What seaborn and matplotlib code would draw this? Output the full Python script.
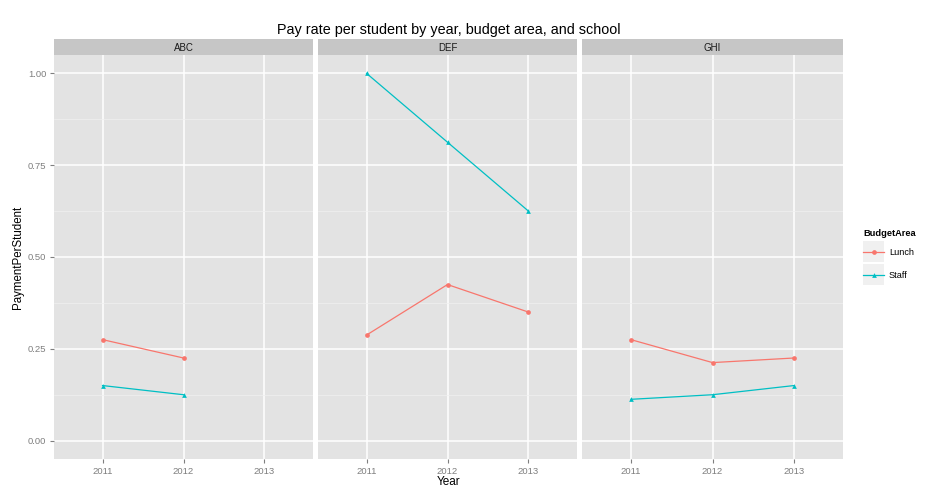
import numpy as np
import pandas as pd
import matplotlib
matplotlib.use("Agg")
import matplotlib.pyplot as plt
import seaborn as sns
from matplotlib.legend_handler import HandlerLine2D
from matplotlib.patches import Rectangle
from matplotlib.lines import Line2D

# ---- data ----
schools = ["ABC", "DEF", "GHI"]
years = [2011, 2012, 2013]
budget_areas = ["Lunch", "Staff"]

abc_years = [2011, 2012]
abc_lunch = [0.275, 0.225]
abc_staff = [0.15, 0.125]

def_years = [2011, 2012, 2013]
def_lunch = [0.2875, 0.425, 0.35]
def_staff = [1.0, 0.8125, 0.625]

ghi_years = [2011, 2012, 2013]
ghi_lunch = [0.275, 0.2125, 0.225]
ghi_staff = [0.1125, 0.125, 0.15]

y_ticks = [0.0, 0.25, 0.5, 0.75, 1.0]
y_tick_labels = ["0.00", "0.25", "0.50", "0.75", "1.00"]
x_tick_labels = ["2011", "2012", "2013"]

rows = []
for sch, yrs, lunch, staff in [("ABC", abc_years, abc_lunch, abc_staff),
                               ("DEF", def_years, def_lunch, def_staff),
                               ("GHI", ghi_years, ghi_lunch, ghi_staff)]:
    for y, l, s in zip(yrs, lunch, staff):
        rows.append({"School": sch, "Year": y, "BudgetArea": "Lunch", "PaymentPerStudent": l})
        rows.append({"School": sch, "Year": y, "BudgetArea": "Staff", "PaymentPerStudent": s})
df = pd.DataFrame(rows)

palette = {"Lunch": "#F8766D", "Staff": "#00BFC4"}
markers = {"Lunch": "o", "Staff": "^"}

plt.rcParams["font.family"] = ["Liberation Sans", "DejaVu Sans"]

W, H = 950, 501
fig = plt.figure(figsize=(W / 100, H / 100), dpi=100)
fig.patch.set_facecolor("white")

panel_px = [(54, 313), (318, 577), (582, 843)]
top_px, bot_px = 55, 459
strip_top = 39

LW = 0.9
MS = 3.4
tick_col = "#7F7F7F"
axes = []
for i, (sch, (l, r)) in enumerate(zip(schools, panel_px)):
    ax = fig.add_axes([l / W, (H - bot_px) / H, (r - l) / W, (bot_px - top_px) / H])
    ax.set_facecolor("#E3E3E3")
    sub = df[df["School"] == sch]
    sns.lineplot(data=sub, x="Year", y="PaymentPerStudent", hue="BudgetArea",
                 style="BudgetArea", hue_order=budget_areas, style_order=budget_areas,
                 palette=palette, markers=markers, dashes=False, ax=ax, legend=False,
                 linewidth=LW, markersize=MS, markeredgewidth=0, zorder=3)
    ax.set_xlim(2010.4, 2013.6)
    ax.set_ylim(-0.05, 1.05)
    ax.set_xticks(years)
    ax.set_xticklabels(x_tick_labels)
    ax.set_yticks(y_ticks)
    ax.set_yticks([0.125, 0.375, 0.625, 0.875], minor=True)
    ax.grid(True, which="major", color="white", linewidth=1.1)
    ax.grid(True, which="minor", axis="y", color="#F0F0F0", linewidth=0.5)
    ax.set_axisbelow(True)
    for s in ax.spines.values():
        s.set_visible(False)
    ax.tick_params(axis="both", which="major", labelsize=6.8, labelcolor=tick_col,
                   color=tick_col, length=3, width=0.8, pad=2.5)
    ax.tick_params(axis="y", which="minor", length=0)
    ax.set_xlabel("")
    ax.set_ylabel("")
    if i == 0:
        ax.set_yticklabels(y_tick_labels)
    else:
        ax.tick_params(axis="y", length=0, labelleft=False)
    # strip
    sax = fig.add_axes([l / W, (H - top_px) / H, (r - l) / W, (top_px - strip_top) / H])
    sax.set_facecolor("#C6C6C6")
    sax.set_xticks([]); sax.set_yticks([])
    for s in sax.spines.values():
        s.set_visible(False)
    sax.text(0.5, 0.45, sch, ha="center", va="center", fontsize=7, color="#1A1A1A",
             transform=sax.transAxes)
    axes.append(ax)

center_x = (panel_px[0][0] + panel_px[-1][1]) / 2 / W
fig.text(center_x, 1 - 30 / H, "Pay rate per student by year, budget area, and school",
         ha="center", va="center", fontsize=10.4, color="black")
fig.text(center_x, 1 - 482 / H, "Year", ha="center", va="center", fontsize=8.5)
fig.text(18 / W, 1 - ((top_px + bot_px) / 2) / H, "PaymentPerStudent", ha="center",
         va="center", rotation=90, fontsize=8.3)


class KeyHandler(HandlerLine2D):
    def create_artists(self, legend, orig_handle, xdescent, ydescent, width, height,
                       fontsize, trans):
        arts = super().create_artists(legend, orig_handle, xdescent, ydescent, width,
                                      height, fontsize, trans)
        yc = (height - ydescent) / 2.0
        side = width
        bg = Rectangle((-xdescent, yc - side / 2.0), width, side, facecolor="#F0F0F0",
                       edgecolor="none", transform=trans, zorder=0)
        return [bg] + list(arts)


handles = [Line2D([], [], color=palette[b], marker=markers[b], markersize=MS,
                  markeredgewidth=0, linewidth=LW) for b in budget_areas]
leg = fig.legend(handles, budget_areas, title="BudgetArea", loc="upper left",
                 bbox_to_anchor=(856 / W, 1 - 222 / H), frameon=False, fontsize=6.6,
                 title_fontsize=6.7, handlelength=2.3, handleheight=0.7,
                 labelspacing=1.5, handletextpad=0.5, borderpad=0.3,
                 handler_map={Line2D: KeyHandler()})
leg.get_title().set_fontweight("bold")
leg._legend_box.align = "left"
leg._legend_box.sep = 7

fig.savefig("out.png", dpi=100)
